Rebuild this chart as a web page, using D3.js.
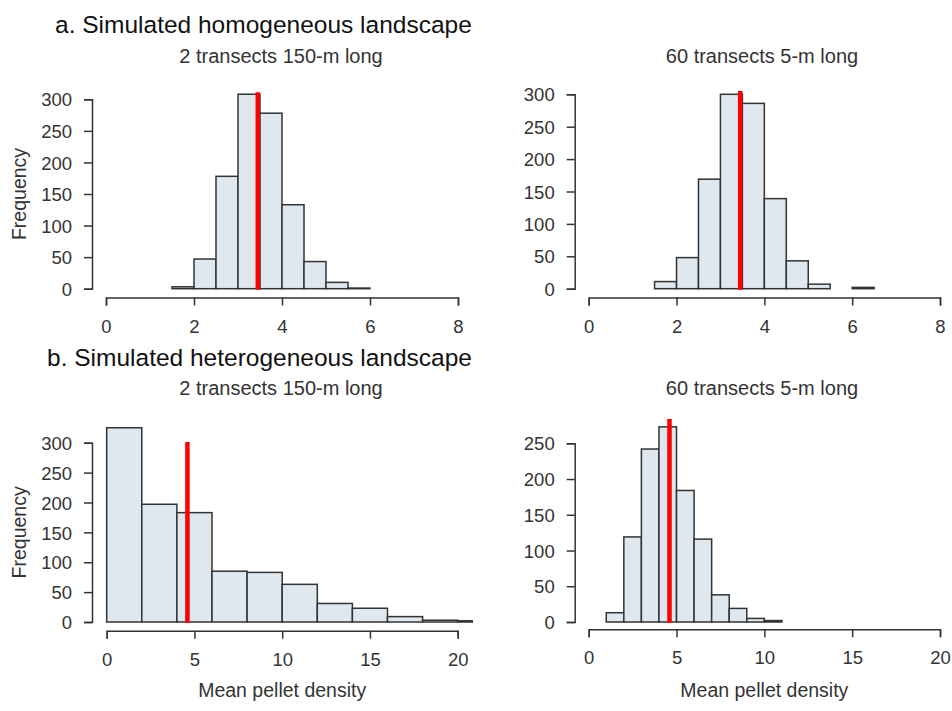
<!DOCTYPE html>
<html>
<head>
<meta charset="utf-8">
<script src="https://cdn.jsdelivr.net/npm/d3@7"></script>
<style>
  body { margin: 0; background: #fff; }
  svg { display: block; font-family: "Liberation Sans", Arial, sans-serif; }
</style>
</head>
<body>
<script>
// ---------------------
// Data
// ---------------------

// a. homogeneous, 2 transects 150-m long
var breaksA = [1.5, 2, 2.5, 3, 3.5, 4, 4.5, 5, 5.5, 6];
var countsA = [3, 47, 178, 308, 278, 133, 43, 10, 1];
var meanA = 3.45, lineTopA = 311;

// a. homogeneous, 60 transects 5-m long
var breaksB = [1.5, 2, 2.5, 3, 3.5, 4, 4.5, 5, 5.5, 6, 6.5];
var countsB = [11, 48, 169, 300, 286, 139, 43, 7, 0, 2];
var meanB = 3.45, lineTopB = 305;

// b. heterogeneous, 2 transects 150-m long
var breaksC = [0, 2, 4, 6, 8, 10, 12, 14, 16, 18, 20, 22];
var countsC = [325, 197, 183, 85, 83, 63, 31, 23, 9, 3, 2];
var meanC = 4.6, lineTopC = 301;

// b. heterogeneous, 60 transects 5-m long
var breaksD = [1, 2, 3, 4, 5, 6, 7, 8, 9, 10, 11];
var countsD = [13, 119, 242, 273, 184, 116, 38, 19, 5, 2];
var meanD = 4.6, lineTopD = 284;

var xTicksTop = [0, 2, 4, 6, 8];
var xTicksBottom = [0, 5, 10, 15, 20];
var yTicks300 = [0, 50, 100, 150, 200, 250, 300];
var yTicks250 = [0, 50, 100, 150, 200, 250];

var W = 952, H = 711;
var ink = "#333";

var svg = d3.select("body").append("svg")
    .attr("width", W)
    .attr("height", H);

// panel layout, in pixels
var panels = [
  { breaks: breaksA, counts: countsA, mean: meanA, top: lineTopA,
    xdom: [0, 8], xr: [106, 458], ydom: [0, 300], yr: [288.7, 99.3],
    axisY: 297.5, axisX: 92, clipR: 470, xticks: xTicksTop, yticks: yTicks300,
    sub: "2 transects 150-m long", subX: 281, subY: 63, frq: true, xlab: false },
  { breaks: breaksB, counts: countsB, mean: meanB, top: lineTopB,
    xdom: [0, 8], xr: [588.7, 940], ydom: [0, 300], yr: [288.7, 94.3],
    axisY: 297.5, axisX: 574.7, clipR: 952, xticks: xTicksTop, yticks: yTicks300,
    sub: "60 transects 5-m long", subX: 762, subY: 63, frq: false, xlab: false },
  { breaks: breaksC, counts: countsC, mean: meanC, top: lineTopC,
    xdom: [0, 20], xr: [106.7, 457.7], ydom: [0, 300], yr: [622, 442.7],
    axisY: 630.7, axisX: 92, clipR: 473, xticks: xTicksBottom, yticks: yTicks300,
    sub: "2 transects 150-m long", subX: 281, subY: 395, frq: true, xlab: true },
  { breaks: breaksD, counts: countsD, mean: meanD, top: lineTopD,
    xdom: [0, 20], xr: [588.7, 940], ydom: [0, 250], yr: [622, 443.3],
    axisY: 629.3, axisX: 574.7, clipR: 952, xticks: xTicksBottom, yticks: yTicks250,
    sub: "60 transects 5-m long", subX: 762, subY: 395, frq: false, xlab: true }
];

// section titles
svg.append("text")
    .attr("x", 55).attr("y", 33)
    .attr("font-size", 24.5).attr("fill", "#111")
    .text("a. Simulated homogeneous landscape");
svg.append("text")
    .attr("x", 47).attr("y", 366)
    .attr("font-size", 24.5).attr("fill", "#111")
    .text("b. Simulated heterogeneous landscape");

panels.forEach(function(p, k) {
  var x = d3.scaleLinear().domain(p.xdom).range(p.xr);
  var y = d3.scaleLinear().domain(p.ydom).range(p.yr);
  var g = svg.append("g");

  svg.append("clipPath").attr("id", "clip" + k)
    .append("rect")
      .attr("x", p.axisX).attr("y", 0)
      .attr("width", p.clipR - p.axisX).attr("height", H);

  var bins = p.counts.map(function(c, i) {
    return { x0: p.breaks[i], x1: p.breaks[i + 1], n: c };
  });

  g.append("g").attr("clip-path", "url(#clip" + k + ")")
    .selectAll("rect")
    .data(bins)
    .enter()
    .append("rect")
      .attr("x", function(d) { return x(d.x0); })
      .attr("width", function(d) { return x(d.x1) - x(d.x0); })
      .attr("y", function(d) { return y(d.n); })
      .attr("height", function(d) { return y(0) - y(d.n); })
      .attr("fill", "#dfe7ef")
      .attr("stroke", ink)
      .attr("stroke-width", 1.5);

  // mean line
  g.append("line")
    .attr("x1", x(p.mean)).attr("x2", x(p.mean))
    .attr("y1", y(0) + 1).attr("y2", y(p.top))
    .attr("stroke", "#f00")
    .attr("stroke-width", 4.5);

  // x axis
  var xa = g.append("g")
    .attr("transform", "translate(0," + p.axisY + ")")
    .call(d3.axisBottom(x).tickValues(p.xticks).tickSizeOuter(0).tickSize(8).tickPadding(14));
  // y axis
  var ya = g.append("g")
    .attr("transform", "translate(" + p.axisX + ",0)")
    .call(d3.axisLeft(y).tickValues(p.yticks).tickSizeOuter(0).tickSize(8).tickPadding(12));

  [xa, ya].forEach(function(a) {
    a.select(".domain").attr("stroke", ink).attr("stroke-width", 1.5);
    a.selectAll(".tick line").attr("stroke", ink).attr("stroke-width", 1.5);
    a.selectAll(".tick text")
      .attr("fill", ink)
      .attr("font-size", 18.5)
      .attr("font-family", "Liberation Sans, Arial, sans-serif");
  });
  ya.selectAll(".tick text").attr("dy", "0.36em");

  // subtitle
  svg.append("text")
    .attr("x", p.subX).attr("y", p.subY)
    .attr("text-anchor", "middle")
    .attr("font-size", 20).attr("fill", ink)
    .text(p.sub);

  if (p.frq) {
    var cy = (p.yr[0] + p.yr[1]) / 2;
    svg.append("text")
      .attr("transform", "translate(26," + cy + ") rotate(-90)")
      .attr("text-anchor", "middle")
      .attr("font-size", 19.5).attr("fill", ink)
      .text("Frequency");
  }
  if (p.xlab) {
    svg.append("text")
      .attr("x", (p.xr[0] + p.xr[1]) / 2).attr("y", 697)
      .attr("text-anchor", "middle")
      .attr("font-size", 19.5).attr("fill", ink)
      .text("Mean pellet density");
  }
});
</script>
</body>
</html>
